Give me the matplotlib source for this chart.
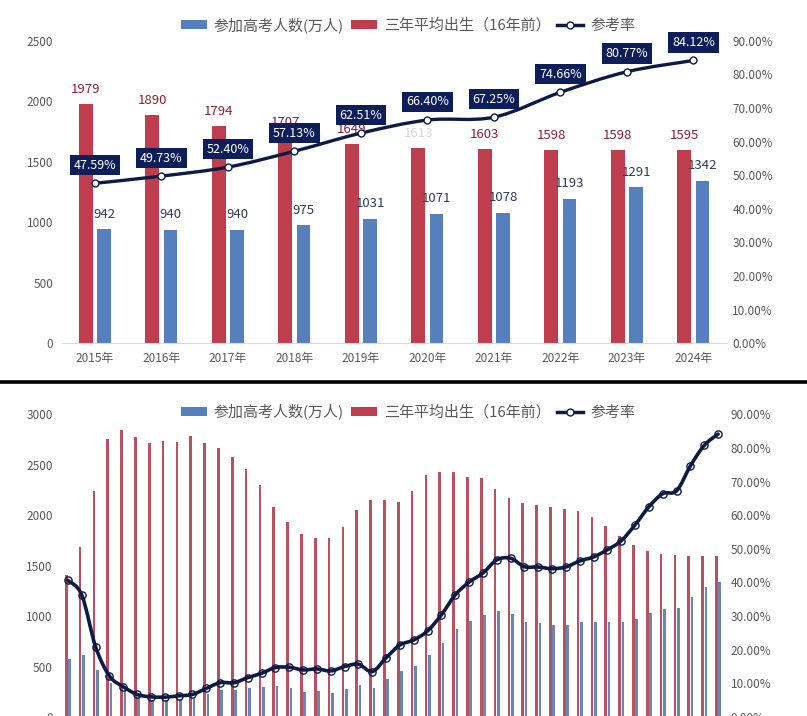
import matplotlib
matplotlib.use("Agg")
import matplotlib.pyplot as plt
from matplotlib.patches import Patch, PathPatch
from matplotlib.lines import Line2D
from matplotlib.path import Path
import numpy as np

plt.rcParams['font.family'] = ['Noto Sans CJK SC', 'DejaVu Sans']

# ---------------- data ----------------
top_years = ["2015年", "2016年", "2017年", "2018年", "2019年",
             "2020年", "2021年", "2022年", "2023年", "2024年"]
top_takers = [942, 940, 940, 975, 1031, 1071, 1078, 1193, 1291, 1342]
top_births = [1979, 1890, 1794, 1707, 1649, 1613, 1603, 1598, 1598, 1595]
top_rate = [47.59, 49.73, 52.40, 57.13, 62.51, 66.40, 67.25, 74.66, 80.77, 84.12]

all_years = list(range(1977, 2025))
all_takers = [570, 610, 468, 333, 259, 187, 167, 164, 176, 191, 228, 272, 266, 283,
              296, 303, 286, 251, 253, 241, 278, 320, 288, 375, 454, 510, 613, 729,
              877, 950, 1010, 1050, 1020, 946, 933, 915, 912, 939, 942, 940, 940, 975,
              1031, 1071, 1078, 1193, 1291, 1342]
all_births = [1410, 1685, 2237, 2757, 2840, 2777, 2718, 2734, 2721, 2780, 2718, 2668,
              2579, 2453, 2297, 2085, 1933, 1810, 1771, 1771, 1880, 2056, 2152, 2148,
              2132, 2244, 2403, 2430, 2430, 2383, 2367, 2261, 2172, 2125, 2102, 2079,
              2062, 2039, 1979, 1890, 1794, 1707, 1649, 1613, 1603, 1598, 1598, 1595]
all_rate = [40.6, 36.3, 20.9, 12.2, 9.0, 6.7, 6.0, 5.9, 6.3, 6.7, 8.5, 10.2, 10.2, 11.7,
            13.0, 14.7, 14.8, 14.0, 14.3, 13.7, 15.0, 15.7, 13.5, 17.6, 21.4, 22.9,
            25.6, 30.4, 36.3, 40.1, 42.8, 46.7, 47.2, 44.7, 44.6, 44.1, 44.6, 46.4,
            47.59, 49.73, 52.40, 57.13, 62.51, 66.40, 67.25, 74.66, 80.77, 84.12]

left_ticks_top = [0, 500, 1000, 1500, 2000, 2500]
left_ticks_bot = [0, 500, 1000, 1500, 2000, 2500, 3000]
right_ticks = [0, 10, 20, 30, 40, 50, 60, 70, 80, 90]

legend_labels = ["参加高考人数(万人)", "三年平均出生（16年前）", "参考率"]

# ---------------- style ----------------
BLUE = "#5580BD"
RED = "#BF3E4D"
RED_THIN = "#B9525F"
BLUE_THIN = "#6A86B9"
NAVY = "#0E1A45"
BOX = "#0E1E5B"
GRAY = "#595959"
RED_TXT = "#8E1F33"
BLUE_TXT = "#2E3B58"

W, H = 807, 716
fig = plt.figure(figsize=(W / 100, H / 100), dpi=100)


def smooth_path(xs, ys):
    pts = np.column_stack([xs, ys]).astype(float)
    n = len(pts)
    verts = [pts[0]]
    codes = [Path.MOVETO]
    for i in range(n - 1):
        p0 = pts[i - 1] if i > 0 else pts[i]
        p1 = pts[i]
        p2 = pts[i + 1]
        p3 = pts[i + 2] if i + 2 < n else pts[i + 1]
        c1 = p1 + (p2 - p0) / 6.0
        c2 = p2 - (p3 - p1) / 6.0
        verts += [c1, c2, p2]
        codes += [Path.CURVE4] * 3
    return Path(verts, codes)


def style_axes(ax, ax2, yticks, ymax):
    for s in ["top", "right", "left"]:
        ax.spines[s].set_visible(False)
    ax.spines["bottom"].set_color("#D9D9D9")
    for s in ["top", "right", "left", "bottom"]:
        ax2.spines[s].set_visible(False)
    ax.set_ylim(0, ymax)
    ax.set_yticks(yticks)
    ax.set_yticklabels([str(t) for t in yticks])
    ax.tick_params(axis="y", length=0, pad=6, labelsize=8.5, labelcolor=GRAY)
    ax.tick_params(axis="x", length=0, pad=6, labelsize=8.5, labelcolor=GRAY)
    ax2.set_ylim(0, 90)
    ax2.set_yticks(right_ticks)
    ax2.set_yticklabels([f"{t:.2f}%" for t in right_ticks])
    ax2.tick_params(axis="y", length=0, pad=4, labelsize=8.5, labelcolor=GRAY)


# ---------------- top chart ----------------
axL = 61.7 / W
axW = 665 / W
ax = fig.add_axes([axL, (H - 343.3) / H, axW, 302.6 / H])
ax2 = ax.twinx()
x = np.arange(len(top_years))
bw = 0.206
off = 0.137
ax.bar(x - off, top_births, width=bw, color=RED, zorder=2)
ax.bar(x + off, top_takers, width=bw, color=BLUE, zorder=2)
ax.set_xlim(-0.5, len(top_years) - 0.5)
ax.set_xticks(x)
ax.set_xticklabels(top_years)
style_axes(ax, ax2, left_ticks_top, 2500)

for xi, v in zip(x, top_births):
    col = RED_TXT if v != 1613 else "#D9D9D9"
    ax.annotate(str(v), (xi - off, v), xytext=(0, 10.4), textcoords="offset points",
                ha="center", va="center", fontsize=9.5, color=col, zorder=3)
for xi, v in zip(x, top_takers):
    ax.annotate(str(v), (xi + off, v), xytext=(0, 10.8), textcoords="offset points",
                ha="center", va="center", fontsize=9.5, color=BLUE_TXT, zorder=3)

ax2.add_patch(PathPatch(smooth_path(x, top_rate), facecolor="none", edgecolor=NAVY,
                        lw=2.4, zorder=3, capstyle="round", joinstyle="round"))
ax2.plot(x, top_rate, linestyle="none", marker="o", markersize=5, markerfacecolor="white",
         markeredgecolor=NAVY, markeredgewidth=1.0, zorder=4)
for xi, v in zip(x, top_rate):
    ax2.annotate(f"{v:.2f}%", (xi, v), xytext=(0, 13), textcoords="offset points",
                 ha="center", va="center", fontsize=9, color="white", zorder=5,
                 bbox=dict(boxstyle="square,pad=0.3", facecolor=BOX, edgecolor="none"))

# ---------------- bottom chart ----------------
bx = fig.add_axes([61.0 / W, (H - 717) / H, 664 / W, 302.7 / H])
bx2 = bx.twinx()
xb = np.arange(len(all_years))
bw2 = 0.195
off2 = 0.12
bx.bar(xb - off2, all_births, width=bw2, color=RED_THIN, zorder=2)
bx.bar(xb + off2, all_takers, width=bw2, color=BLUE_THIN, zorder=2)
bx.set_xlim(-0.5, len(all_years) - 0.5)
bx.set_xticks(xb)
bx.set_xticklabels([])
style_axes(bx, bx2, left_ticks_bot, 3000)
bx2.add_patch(PathPatch(smooth_path(xb, all_rate), facecolor="none", edgecolor=NAVY,
                        lw=2.6, zorder=3, capstyle="round", joinstyle="round"))
bx2.plot(xb, all_rate, linestyle="none", marker="o", markersize=5.2, markerfacecolor="none",
         markeredgecolor=NAVY, markeredgewidth=1.0, zorder=4)

# ---------------- legends ----------------
handles = [Patch(facecolor=BLUE, edgecolor="none"),
           Patch(facecolor=RED, edgecolor="none"),
           Line2D([0], [0], color=NAVY, lw=2.5, marker="o", markersize=5,
                  markerfacecolor="white", markeredgecolor=NAVY, markeredgewidth=1.0)]
for ypx in (25, 411.7):
    leg = fig.legend(handles, legend_labels, loc="center", bbox_to_anchor=(408 / W, 1 - ypx / H),
                     ncol=3, frameon=False, fontsize=10.8, handlelength=1.75,
                     handleheight=0.55, handletextpad=0.45, columnspacing=0.45,
                     borderpad=0, borderaxespad=0)
    for t in leg.get_texts():
        t.set_color(GRAY)

# ---------------- separator ----------------
fig.add_artist(Line2D([0, 1], [1 - 382 / H, 1 - 382 / H], transform=fig.transFigure,
                      color="black", lw=2.6))

fig.savefig("out.png", dpi=100)
